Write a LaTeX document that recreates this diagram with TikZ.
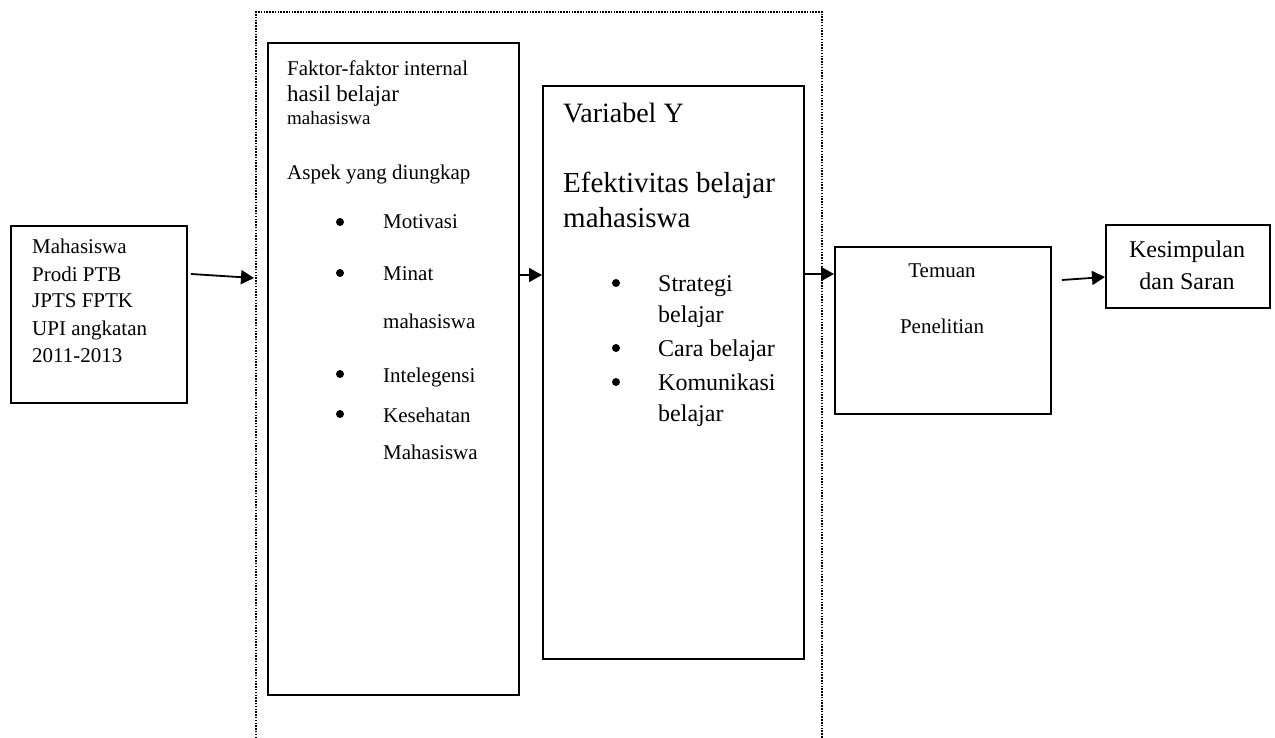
\documentclass[tikz,border=0pt]{standalone}
\usepackage{fontspec}
\setmainfont{Liberation Serif}
\usetikzlibrary{arrows.meta}
\begin{document}
\begin{tikzpicture}[x=1pt,y=-1pt,
  box/.style={draw, line width=1.8pt, inner sep=0pt, anchor=north west},
  txt/.style={anchor=base west, inner sep=0pt},
  ctxt/.style={anchor=base, inner sep=0pt},
  bul/.style={circle, fill, inner sep=0pt, minimum size=8pt},
  arr/.style={-{Triangle[length=13pt,width=14pt]}, line width=1.8pt},
  frame/.style={line width=1.8pt, dash pattern=on 1.5pt off 1.3pt}]
\useasboundingbox (0,0) rectangle (1275,738);
% dotted frame
\draw[frame] (256,738) -- (256,12) -- (822,12) -- (822,738);
% boxes
\node[box, minimum width=176pt, minimum height=177pt] (mhs) at (10,225) {};
\node[box, minimum width=251pt, minimum height=652pt] (faktor) at (267,42) {};
\node[box, minimum width=261pt, minimum height=573pt] (var) at (542,85) {};
\node[box, minimum width=216pt, minimum height=167pt] (temuan) at (834,246) {};
\node[box, minimum width=164pt, minimum height=83pt] (kes) at (1105,224) {};
% Mahasiswa text
\begin{scope}[every node/.style={txt, font=\fontsize{21}{25}\selectfont}]
\node (m1) at (32,254) {Mahasiswa};
\node (m2) at (32,281) {Prodi PTB};
\node (m3) at (32,308) {JPTS FPTK};
\node (m4) at (32,335) {UPI angkatan};
\node (m5) at (32,362) {2011-2013};
\end{scope}
% Faktor text
\node[txt, font=\fontsize{21}{25}\selectfont] (f1) at (287,76) {Faktor-faktor internal};
\node[txt, font=\fontsize{23}{27}\selectfont] (f2) at (287,102) {hasil belajar};
\node[txt, font=\fontsize{19}{23}\selectfont] (f3) at (287,125) {mahasiswa};
\node[txt, font=\fontsize{21}{25}\selectfont] (f4) at (287,180) {Aspek yang diungkap};
\begin{scope}[every node/.style={txt, font=\fontsize{21}{25}\selectfont}]
\node (f5) at (383,229) {Motivasi};
\node (f6) at (383,280) {Minat};
\node (f7) at (383,328) {mahasiswa};
\node (f8) at (383,382) {Intelegensi};
\node (f9) at (383,422) {Kesehatan};
\node (f10) at (383,459) {Mahasiswa};
\end{scope}
\node[bul] (fb1) at (340,222) {};
\node[bul] (fb2) at (340,273) {};
\node[bul] (fb3) at (340,374) {};
\node[bul] (fb4) at (340,414) {};
% Variabel text
\node[txt, font=\fontsize{28}{33}\selectfont] (v1) at (563,123) {Variabel Y};
\node[txt, font=\fontsize{29}{34}\selectfont] (v2) at (563,193) {Efektivitas belajar};
\node[txt, font=\fontsize{29}{34}\selectfont] (v3) at (563,228) {mahasiswa};
\begin{scope}[every node/.style={txt, font=\fontsize{24}{28}\selectfont}]
\node (v4) at (658,291) {Strategi};
\node (v5) at (658,323) {belajar};
\node (v6) at (658,356) {Cara belajar};
\node (v7) at (658,390) {Komunikasi};
\node (v8) at (658,421) {belajar};
\end{scope}
\node[bul] (vb1) at (616,283) {};
\node[bul] (vb2) at (616,348) {};
\node[bul] (vb3) at (616,382) {};
% Temuan text
\node[ctxt, font=\fontsize{21}{25}\selectfont] (t1) at (942,277) {Temuan};
\node[ctxt, font=\fontsize{21}{25}\selectfont] (t2) at (942,333) {Penelitian};
% Kesimpulan text
\node[ctxt, font=\fontsize{24}{28}\selectfont] (k1) at (1187,258) {Kesimpulan};
\node[ctxt, font=\fontsize{24}{28}\selectfont] (k2) at (1187,290) {dan Saran};
% arrows
\coordinate (a1s) at (191,274);
\coordinate (a1e) at (254,278);
\draw[arr] (a1s) -- (a1e);
\draw[arr] (faktor.east |- 0,275) -- (var.west |- 0,275);
\draw[arr] (var.east |- 0,274) -- (temuan.west |- 0,274);
\coordinate (a4s) at (1062,280);
\draw[arr] (a4s) -- (kes.west |- 0,277);
\end{tikzpicture}
\end{document}
